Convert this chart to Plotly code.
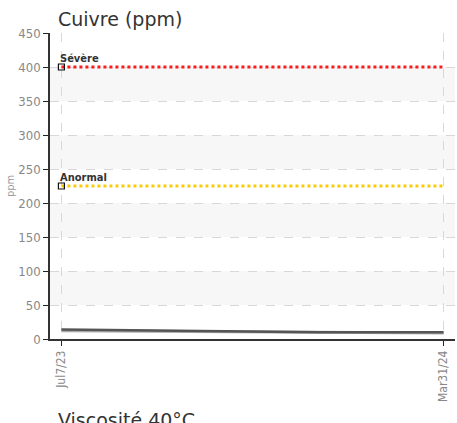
import plotly.graph_objects as go

title = "Cuivre (ppm)"
next_title = "Viscosité 40°C"
y_title = "ppm"

dates = ["2023-07-07", "2023-10-04", "2024-01-03", "2024-03-31"]
cuivre = [14, 12, 10, 10]
cuivre_low = [12, 11, 9, 9]

limit_start = "2023-07-07"
limit_end = "2024-03-31"
limits = [("Sévère", 400, "#ff1a1a"), ("Anormal", 225, "#ffcc00")]

tick_dates = ["2023-07-07", "2024-03-31"]
tick_text = ["Jul7/23", "Mar31/24"]
y_ticks = list(range(0, 451, 50))

COND = "DejaVu Sans Condensed, Roboto Condensed, Roboto"

fig = go.Figure()

for lo in y_ticks[1:-1:2]:
    fig.add_shape(type="rect", xref="paper", x0=0, x1=1, yref="y", y0=lo, y1=lo + 50,
                  fillcolor="#f7f7f7", line_width=0, layer="below")

annots = []
for name, val, col in limits:
    fig.add_trace(go.Scatter(x=[limit_start, limit_end], y=[val, val], mode="lines",
                             line=dict(color=col, width=3, dash="dot"), hoverinfo="skip",
                             showlegend=False))
    fig.add_trace(go.Scatter(x=[limit_start], y=[val], mode="markers",
                             marker=dict(symbol="square-open", size=6, color="#111",
                                         line=dict(width=1.2)),
                             showlegend=False, cliponaxis=False))
    annots.append(dict(text="<b>%s</b>" % name, x=limit_start, y=val, xref="x", yref="y",
                       xanchor="left", yanchor="bottom", showarrow=False, xshift=-3, yshift=0,
                       font=dict(family=COND, size=11, color="#333")))

fig.add_trace(go.Scatter(x=dates, y=cuivre_low, mode="lines",
                         line=dict(color="#aaaaaa", width=3), showlegend=False))
fig.add_trace(go.Scatter(x=dates, y=cuivre, mode="lines",
                         line=dict(color="#555555", width=2.5), showlegend=False))

# plot area spans 405 px
annots += [
    dict(text=title, xref="paper", yref="paper", x=(56 - 50) / 405, y=1,
         xanchor="left", yanchor="bottom", showarrow=False, yshift=1,
         font=dict(family="DejaVu Sans", size=19, color="#333")),
    dict(text=next_title, xref="paper", yref="paper", x=(56 - 50) / 405, y=0,
         xanchor="left", yanchor="top", showarrow=False, yshift=-68,
         font=dict(family="DejaVu Sans", size=19, color="#333")),
]

fig.update_layout(
    width=457, height=423,
    margin=dict(l=50, r=2, t=33, b=84, autoexpand=False),
    paper_bgcolor="white", plot_bgcolor="white",
    font=dict(family=COND, color="#888"),
    annotations=annots,
)

fig.update_xaxes(
    type="date", range=["2023-06-29", "2024-04-08"], automargin=False,
    tickvals=tick_dates, ticktext=tick_text, tickangle=-90,
    showgrid=True, gridcolor="#d8d8d8", griddash="dash", gridwidth=1,
    ticks="outside", ticklen=5, tickcolor="#222",
    tickfont=dict(family=COND, size=12, color="#888"),
    showline=True, linecolor="#333", linewidth=1.5, zeroline=False,
)
fig.update_yaxes(
    range=[0, 450], tickvals=y_ticks, automargin=False,
    showgrid=True, gridcolor="#d8d8d8", griddash="dash", gridwidth=1,
    ticks="outside", ticklen=5, tickcolor="#222",
    tickfont=dict(family=COND, size=13, color="#888"),
    showline=True, linecolor="#333", linewidth=1.5, zeroline=False,
    title=dict(text=y_title, font=dict(family=COND, size=11, color="#999"), standoff=1),
)

fig.write_html("out.html", config={"displayModeBar": False},
               post_script="document.body.style.margin='0';")
